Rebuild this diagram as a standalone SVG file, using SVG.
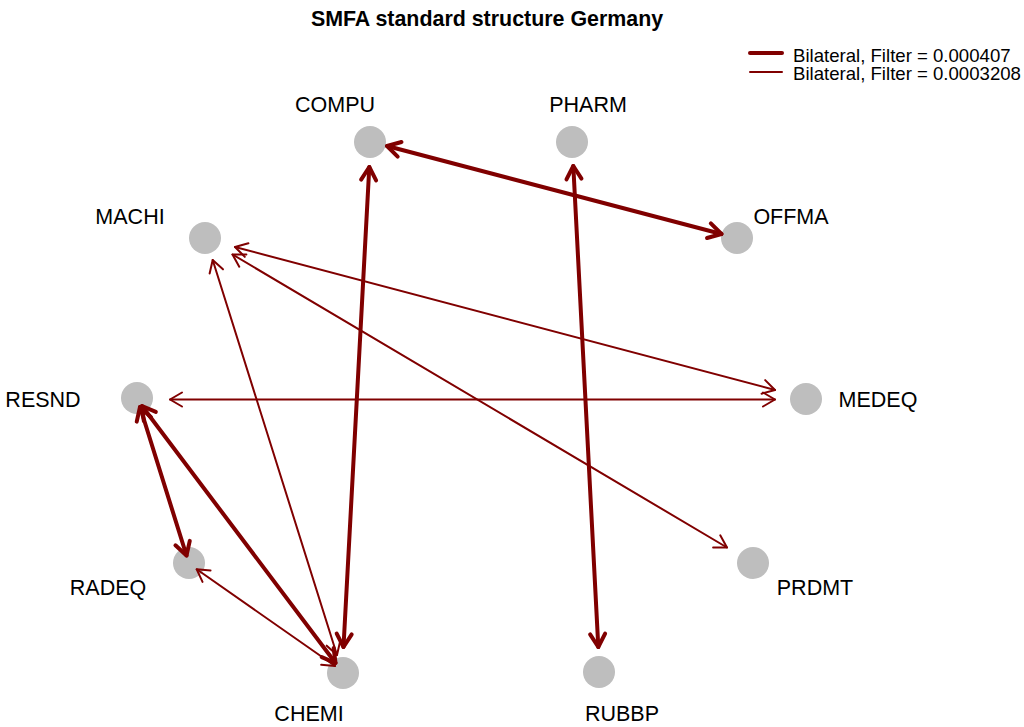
<svg xmlns="http://www.w3.org/2000/svg" width="1024" height="727" viewBox="0 0 1024 727">
  <style>
    .node circle { fill: #BEBEBE; }
    .node text, .legend text { font-family: "Liberation Sans", Arial, sans-serif; fill: #000; }
    .node text { font-size: 21.5px; text-anchor: middle; }
    .title { font-family: "Liberation Sans", Arial, sans-serif; font-size: 21.4px; font-weight: bold; text-anchor: middle; }
    .legend text { font-size: 18.6px; }
    .edge { stroke: #800000; fill: none; stroke-linecap: round; }
    .thick { stroke-width: 4; marker-start: url(#arrThick); marker-end: url(#arrThick); }
    .thin { stroke-width: 2; marker-start: url(#arrThin); marker-end: url(#arrThin); }
  </style>
  <defs>
    <marker id="arrThick" markerUnits="userSpaceOnUse" orient="auto-start-reverse" markerWidth="30" markerHeight="30" refX="0" refY="0" viewBox="-20 -15 30 30" overflow="visible">
      <path d="M-13,-7.5 L0,0 L-13,7.5" fill="none" stroke="#800000" stroke-width="4" stroke-linecap="round" stroke-linejoin="round"/>
    </marker>
    <marker id="arrThin" markerUnits="userSpaceOnUse" orient="auto-start-reverse" markerWidth="30" markerHeight="30" refX="0" refY="0" viewBox="-20 -15 30 30" overflow="visible">
      <path d="M-12,-7 L0,0 L-12,7" fill="none" stroke="#800000" stroke-width="2" stroke-linecap="round" stroke-linejoin="round"/>
    </marker>
  </defs>

  <rect width="1024" height="727" fill="#fff"/>

  <text class="title" x="487" y="26">SMFA standard structure Germany</text>

  <!-- legend -->
  <g class="legend">
    <line x1="750" y1="53" x2="782" y2="53" stroke="#800000" stroke-width="4" stroke-linecap="round"/>
    <line x1="750" y1="72" x2="782" y2="72" stroke="#800000" stroke-width="2" stroke-linecap="round"/>
    <text x="793" y="62">Bilateral, Filter = 0.000407</text>
    <text x="793" y="79.5">Bilateral, Filter = 0.0003208</text>
  </g>

  <!-- nodes -->
  <g id="node-COMPU" class="node"><circle cx="370" cy="142" r="16"/><text x="335" y="112">COMPU</text></g>
  <g id="node-PHARM" class="node"><circle cx="572" cy="142" r="16"/><text x="588" y="112">PHARM</text></g>
  <g id="node-MACHI" class="node"><circle cx="205" cy="238" r="16"/><text x="130" y="224">MACHI</text></g>
  <g id="node-OFFMA" class="node"><circle cx="737" cy="238" r="16"/><text x="791" y="224">OFFMA</text></g>
  <g id="node-RESND" class="node"><circle cx="137" cy="398" r="16"/><text x="43" y="407">RESND</text></g>
  <g id="node-MEDEQ" class="node"><circle cx="806" cy="399" r="16"/><text x="878" y="407">MEDEQ</text></g>
  <g id="node-RADEQ" class="node"><circle cx="189" cy="563" r="16"/><text x="108" y="595">RADEQ</text></g>
  <g id="node-PRDMT" class="node"><circle cx="753" cy="563" r="16"/><text x="815" y="595">PRDMT</text></g>
  <g id="node-CHEMI" class="node"><circle cx="343" cy="673" r="16"/><text x="309" y="721">CHEMI</text></g>
  <g id="node-RUBBP" class="node"><circle cx="599" cy="672" r="16"/><text x="622" y="721">RUBBP</text></g>

  <!-- connectors -->
  <g id="edges">
    <line class="edge thick" x1="387" y1="146" x2="721.5" y2="234"/>
    <line class="edge thick" x1="369.3" y1="167" x2="343.5" y2="647"/>
    <line class="edge thick" x1="573.3" y1="166" x2="598.3" y2="647"/>
    <line class="edge thick" x1="140" y1="407" x2="186.5" y2="555.5"/>
    <line class="edge thick" x1="142" y1="406" x2="335.5" y2="663"/>
    <line class="edge thin" x1="170" y1="399.5" x2="775" y2="399.5"/>
    <line class="edge thin" x1="235" y1="247" x2="775" y2="390"/>
    <line class="edge thin" x1="232.5" y1="254.5" x2="727" y2="547.5"/>
    <line class="edge thin" x1="212.7" y1="260" x2="337" y2="655"/>
    <line class="edge thin" x1="196.7" y1="569.3" x2="335" y2="666"/>
  </g>
</svg>
